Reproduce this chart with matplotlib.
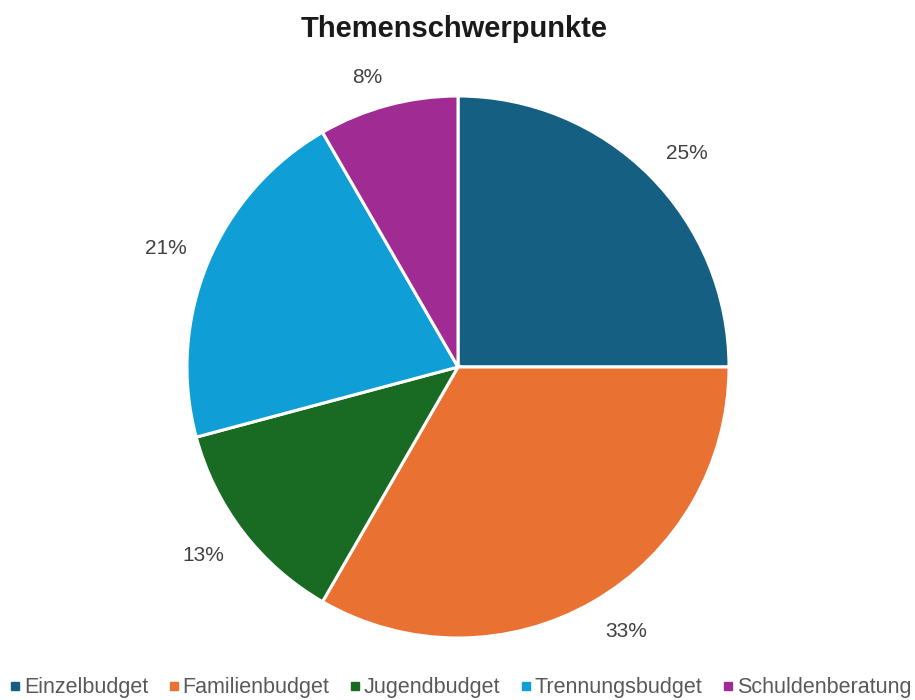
import math
import matplotlib
matplotlib.use("Agg")
import matplotlib.pyplot as plt
from matplotlib.lines import Line2D
from matplotlib.transforms import offset_copy

plt.rcParams["font.family"] = ["Liberation Sans", "DejaVu Sans"]

# Themenschwerpunkte (counts, shown as share of total)
CATEGORIES = ["Einzelbudget", "Familienbudget", "Jugendbudget",
              "Trennungsbudget", "Schuldenberatung"]
VALUES = [6, 8, 3, 5, 2]
COLORS = ["#156082", "#E97132", "#196B24", "#0F9ED5", "#A02B93"]

W, H = 915, 700
fig = plt.figure(figsize=(W / 100, H / 100), dpi=100)
fig.patch.set_facecolor("white")

# pie centre ~ (458, 367) px, radius ~271 px
cx, cy, r = 458, 367, 271
ax = fig.add_axes([(cx - r) / W, (H - cy - r) / H, 2 * r / W, 2 * r / H])

wedges, _ = ax.pie(
    VALUES, colors=COLORS, startangle=90, counterclock=False,
    wedgeprops=dict(edgecolor="white", linewidth=2.2),
)
ax.set_xlim(-1, 1)
ax.set_ylim(-1, 1)
ax.set_aspect("equal")

# outside-end labels: nearest corner of the label sits on a ring just outside the pie
total = sum(VALUES)
for w, v in zip(wedges, VALUES):
    mid = math.radians((w.theta1 + w.theta2) / 2)
    ux, uy = math.cos(mid), math.sin(mid)
    pct = math.floor(v / total * 100 + 0.5)
    dy = (7.5 if uy > 0 else -7.5) - 2
    tr = offset_copy(ax.transData, fig=fig, x=0, y=dy, units="dots")
    ax.text(1.085 * ux, 1.085 * uy, f"{pct}%", transform=tr,
            ha="left" if ux > 0 else "right", va="center",
            fontsize=15, color="#404040")

fig.text(0.5 - 3 / W, 1 - 29 / H, "Themenschwerpunkte", ha="center", va="center",
         fontsize=21, fontweight="bold", color="#1a1a1a")

handles = [Line2D([], [], marker="s", linestyle="none", markersize=6,
                  markerfacecolor=c, markeredgecolor=c) for c in COLORS]
fig.legend(handles, CATEGORIES, loc="center", bbox_to_anchor=(459 / W, 1 - 688 / H),
           ncol=5, frameon=False, fontsize=15.5, labelcolor="#595959",
           handletextpad=0.0, handlelength=0.8, columnspacing=0.8,
           borderaxespad=0, borderpad=0)

fig.savefig("out.png", dpi=100, facecolor="white")
